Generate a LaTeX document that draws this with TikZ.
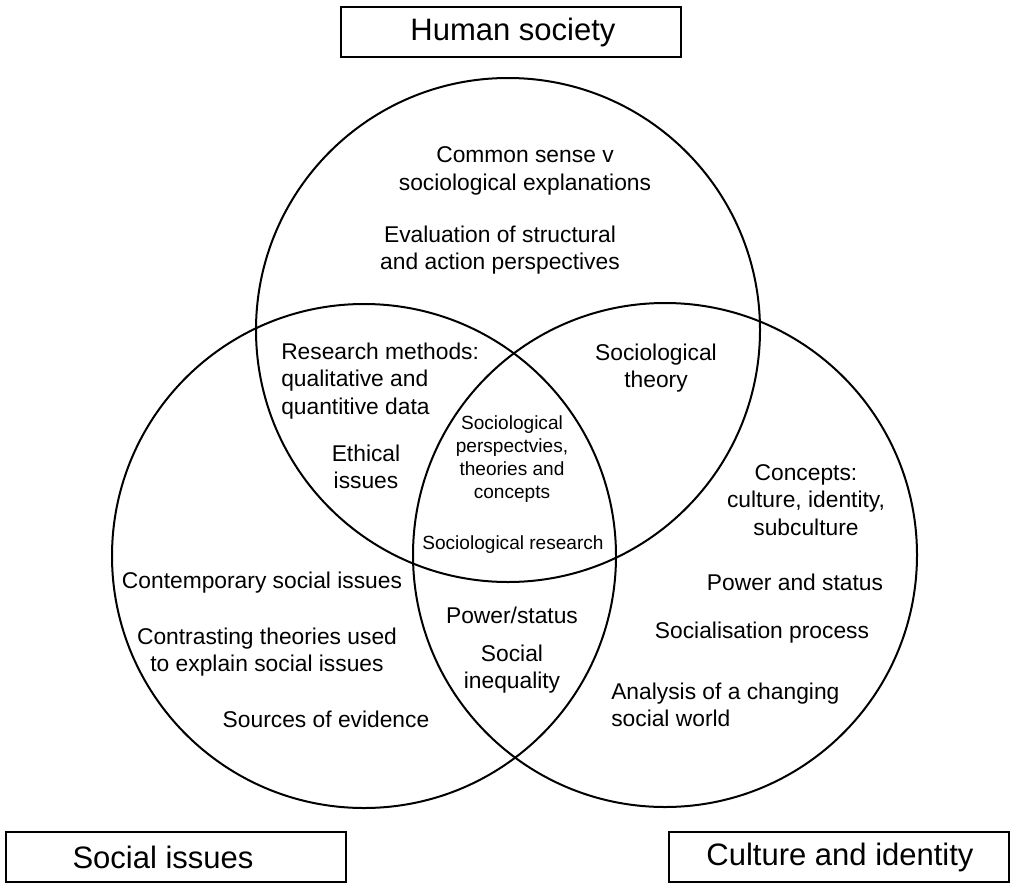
\documentclass[tikz,border=0pt]{standalone}
\usepackage{fontspec}
\setmainfont{Liberation Sans}
\begin{document}
\begin{tikzpicture}[x=0.75pt,y=-0.75pt,
  ring/.style={draw, circle, line width=1.5pt, minimum size=378pt, inner sep=0pt},
  titlebox/.style={draw, line width=1.5pt, minimum width=255pt, minimum height=38pt, inner sep=0pt},
  title/.style={font=\fontsize{23.25pt}{28pt}\selectfont, inner sep=0pt},
  txt/.style={font=\fontsize{17.1pt}{20.4pt}\selectfont, align=center, inner sep=0pt},
  txtl/.style={font=\fontsize{17.1pt}{20.4pt}\selectfont, align=left, inner sep=0pt},
  small/.style={font=\fontsize{14.3pt}{17.3pt}\selectfont, align=center, inner sep=0pt}]
\useasboundingbox (0,0) rectangle (1010,885);
% circles
\node[ring] (top) at (508,330) {};
\node[ring] (left) at (364,556) {};
\node[ring] (right) at (665,555) {};
% boxes
\node[titlebox] (hsbox) at (511,32) {};
\node[title] (hs) at (513,32) {Human society};
\node[titlebox] (sibox) at (175.5,857) {};
\node[title] (si) at (163,857) {Social issues};
\node[titlebox] (cibox) at (838.5,857) {};
\node[title] (ci) at (840,857) {Culture and identity};
% top circle only
\node[txt] (t1) at (525,171) {Common sense v\\sociological explanations};
\node[txt] (t2) at (500,250) {Evaluation of structural\\and action perspectives};
% top-left overlap
\node[txtl, anchor=west] (tl1) at (281,381) {Research methods:\\qualitative and\\quantitive data};
\node[txt] (tl2) at (366,467) {Ethical\\issues};
% top-right overlap
\node[txt] (tr1) at (656,368) {Sociological\\theory};
% centre
\node[small, font=\fontsize{14.3pt}{17.3pt}\selectfont] (c1) at (512,459) {Sociological\\perspectvies,\\theories and\\concepts};
\node[small] (c2) at (513,545) {Sociological research};
% left-right overlap
\node[txt] (lr1) at (512,615) {Power/status};
\node[txt] (lr2) at (512,669) {Social\\inequality};
% left only
\node[txt] (l1) at (262,583) {Contemporary social issues};
\node[txt] (l2) at (267,652) {Contrasting theories used\\to explain social issues};
\node[txt] (l3) at (326,719) {Sources of evidence};
% right only
\node[txt] (r1) at (806,500) {Concepts:\\culture, identity,\\subculture};
\node[txt] (r2) at (795,582) {Power and status};
\node[txt] (r3) at (762,633) {Socialisation process};
\node[txtl, anchor=west] (r4) at (611,705) {Analysis of a changing\\social world};
\end{tikzpicture}
\end{document}
